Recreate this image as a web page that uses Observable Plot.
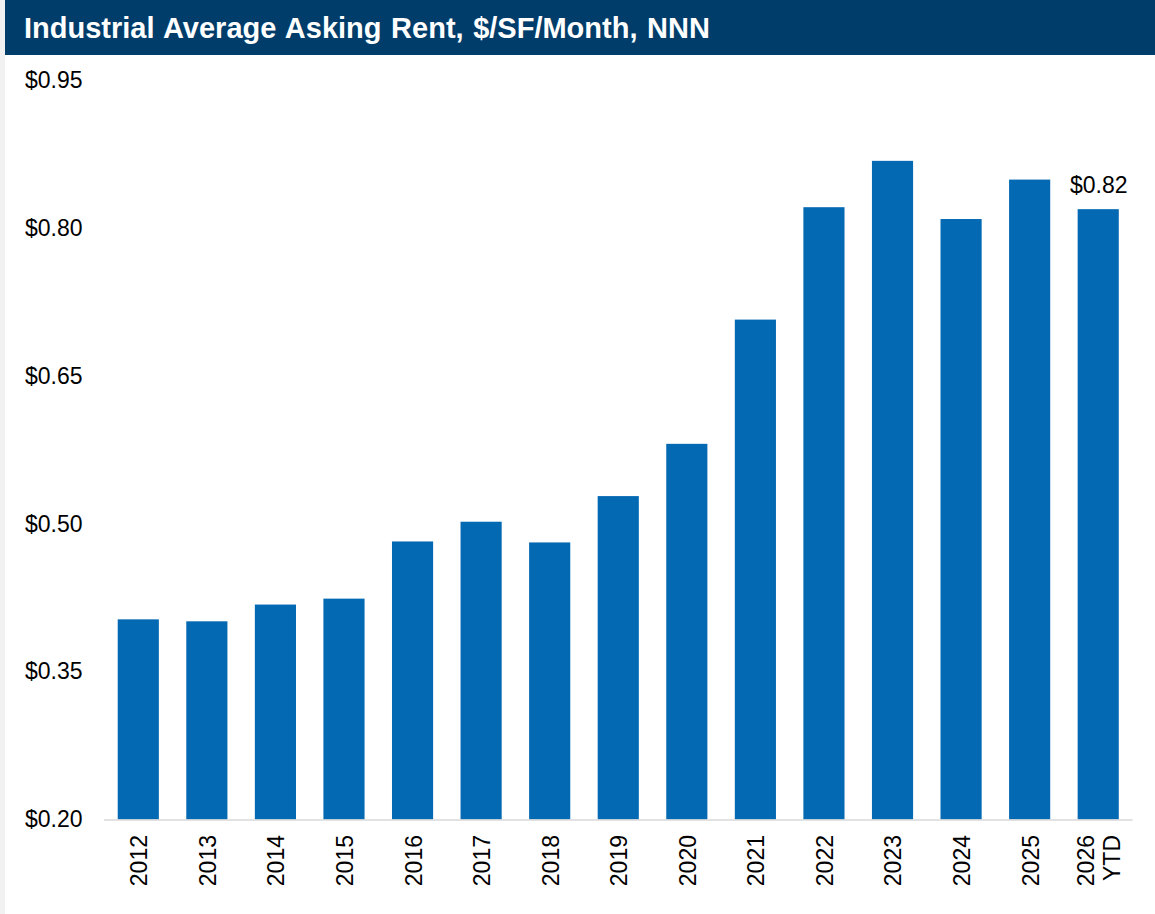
<!DOCTYPE html>
<html>
<head>
<meta charset="utf-8">
<script src="https://cdn.jsdelivr.net/npm/d3@7"></script>
<script src="https://cdn.jsdelivr.net/npm/@observablehq/plot@0.6"></script>
<style>
  html, body { margin: 0; padding: 0; background: #f1f1f1; }
  #wrap { position: absolute; left: 5px; top: 0; width: 1150px; height: 914px; background: #ffffff; }
  #title { height: 55px; background: #003d6b; color: #ffffff; font-family: "Liberation Sans", Arial, sans-serif;
           font-weight: bold; font-size: 29px; line-height: 53px; padding-top: 2px; box-sizing: border-box; padding-left: 19px;
           white-space: nowrap; word-spacing: 1.5px; }
  svg { display: block; }
</style>
</head>
<body>
<div id="wrap">
  <div id="title">Industrial Average Asking Rent, $/SF/Month, NNN</div>
  <div id="chart"></div>
</div>
<script>
const categories = ["2012", "2013", "2014", "2015", "2016", "2017", "2018", "2019", "2020", "2021", "2022", "2023", "2024", "2025", "2026\nYTD"];
const rents = [0.403, 0.401, 0.418, 0.424, 0.482, 0.502, 0.481, 0.528, 0.581, 0.707, 0.821, 0.868, 0.809, 0.849, 0.819];
const yTicks = [0.20, 0.35, 0.50, 0.65, 0.80, 0.95];
const yDomain = [0.20, 0.95];
const labeledCategory = "2026\nYTD";
const labeledText = "$0.82";

const table = categories.map((c, i) => ({category: c, rent: rents[i]}));
const labeled = table.filter(d => d.category === labeledCategory);

const font = "'Liberation Sans', Arial, sans-serif";

const chart = Plot.plot({
  width: 1150,
  height: 859,
  marginLeft: 99,
  marginRight: 22.5,
  marginTop: 25,
  marginBottom: 94.5,
  style: {fontFamily: font, fontSize: "23px", color: "#000", background: "transparent"},
  x: {domain: categories, paddingInner: 0.4, paddingOuter: 0.2, round: false, axis: null},
  y: {domain: yDomain, axis: null},
  marks: [
    Plot.barY(table, {x: "category", y1: yDomain[0], y2: "rent", fill: "#0469b3"}),
    Plot.ruleY([yDomain[0]], {stroke: "#d9d9d9", strokeWidth: 1.6}),
    Plot.axisY({ticks: yTicks, tickFormat: d => "$" + d.toFixed(2), tickSize: 0, tickPadding: 22, label: null, fontSize: 23}),
    Plot.text(categories, {x: d => d, text: d => d, frameAnchor: "bottom", dy: 15, rotate: -90,
      textAnchor: "end", lineAnchor: "middle", lineHeight: 1.15, fontSize: 23, fill: "#000"}),
    Plot.text(labeled, {x: "category", y: "rent", text: () => labeledText, dy: -17,
      textAnchor: "middle", lineAnchor: "bottom", fontSize: 23, fill: "#000"})
  ]
});
document.getElementById("chart").appendChild(chart);
</script>
</body>
</html>
